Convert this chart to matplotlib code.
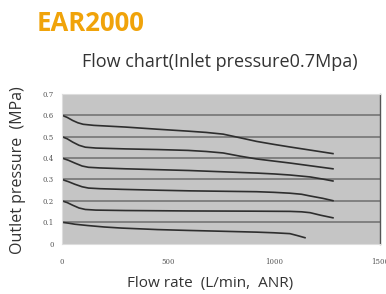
import matplotlib
matplotlib.use("Agg")
import matplotlib.pyplot as plt

# Data
flow_06 = [0, 25, 50, 75, 100, 150, 300, 450, 594, 680, 760, 840, 918, 1000, 1075, 1180, 1278]
pres_06 = [0.600, 0.590, 0.576, 0.565, 0.558, 0.553, 0.545, 0.535, 0.526, 0.520, 0.512, 0.495, 0.478, 0.464, 0.452, 0.436, 0.421]
flow_05 = [0, 25, 50, 80, 110, 160, 300, 450, 594, 680, 760, 840, 918, 1000, 1075, 1180, 1278]
pres_05 = [0.500, 0.490, 0.475, 0.460, 0.451, 0.447, 0.443, 0.440, 0.436, 0.431, 0.424, 0.409, 0.396, 0.386, 0.377, 0.363, 0.350]
flow_04 = [0, 30, 60, 95, 125, 180, 300, 450, 600, 760, 918, 1000, 1075, 1170, 1230, 1278]
pres_04 = [0.400, 0.390, 0.377, 0.363, 0.357, 0.354, 0.350, 0.346, 0.342, 0.336, 0.330, 0.326, 0.321, 0.312, 0.302, 0.293]
flow_03 = [0, 30, 60, 95, 125, 180, 281, 450, 600, 760, 918, 1000, 1075, 1130, 1170, 1230, 1278]
pres_03 = [0.300, 0.290, 0.278, 0.266, 0.260, 0.257, 0.254, 0.250, 0.247, 0.245, 0.243, 0.240, 0.236, 0.231, 0.223, 0.212, 0.201]
flow_02 = [0, 25, 50, 80, 110, 160, 300, 600, 900, 1075, 1130, 1170, 1220, 1278]
pres_02 = [0.200, 0.192, 0.180, 0.167, 0.160, 0.157, 0.155, 0.153, 0.152, 0.151, 0.149, 0.145, 0.133, 0.121]
flow_01 = [0, 30, 61, 120, 200, 281, 450, 594, 760, 918, 1000, 1075, 1110, 1146]
pres_01 = [0.100, 0.096, 0.091, 0.085, 0.078, 0.073, 0.066, 0.062, 0.058, 0.054, 0.051, 0.047, 0.038, 0.028]

curves = [(flow_06, pres_06), (flow_05, pres_05), (flow_04, pres_04),
          (flow_03, pres_03), (flow_02, pres_02), (flow_01, pres_01)]

x_ticks = [0, 500, 1000, 1500]
y_ticks = [0, 0.1, 0.2, 0.3, 0.4, 0.5, 0.6, 0.7]
y_ticklabels = ["0", "0.1", "0.2", "0.3", "0.4", "0.5", "0.6", "0.7"]

fig = plt.figure(figsize=(3.86, 2.94), dpi=100)
fig.patch.set_facecolor("white")
ax = fig.add_axes([0.1606, 0.1711, 0.8239, 0.5095])
ax.set_facecolor("#c5c5c5")

for y in y_ticks[1:7]:
    ax.axhline(y, color="#6e6e6e", lw=1.1, zorder=1)

for fx, py in curves:
    ax.plot(fx, py, color="#2e2e2e", lw=1.2, zorder=2)

ax.set_xlim(0, 1500)
ax.set_ylim(0, 0.7)
ax.set_xticks(x_ticks)
ax.set_xticklabels([str(v) for v in x_ticks])
ax.set_yticks(y_ticks)
ax.set_yticklabels(y_ticklabels)
ax.tick_params(axis="both", length=0, labelsize=5, labelcolor="#555555")
ax.tick_params(axis="x", pad=10)
ax.tick_params(axis="y", pad=6)
for lbl in ax.get_xticklabels() + ax.get_yticklabels():
    lbl.set_family("DejaVu Serif")

for side in ["top", "left", "bottom"]:
    ax.spines[side].set_color("#dddddd")
    ax.spines[side].set_linewidth(0.8)
ax.spines["right"].set_color("#555555")
ax.spines["right"].set_linewidth(1.0)

fig.text(0.096, 0.92, "EAR2000", fontsize=18.5, fontweight="bold",
         color="#f0a30a", family="Open Sans", ha="left", va="center")
fig.text(0.57, 0.79, "Flow chart(Inlet pressure0.7Mpa)", fontsize=13,
         color="#333333", family="Open Sans", ha="center", va="center")
fig.text(0.046, 0.422, "Outlet pressure  (MPa)", fontsize=11.5, rotation=90,
         color="#333333", family="Open Sans", ha="center", va="center")
fig.text(0.543, 0.037, "Flow rate  (L/min,  ANR)", fontsize=11,
         color="#333333", family="Open Sans", ha="center", va="center")

fig.savefig("out.png", dpi=100, facecolor="white")
